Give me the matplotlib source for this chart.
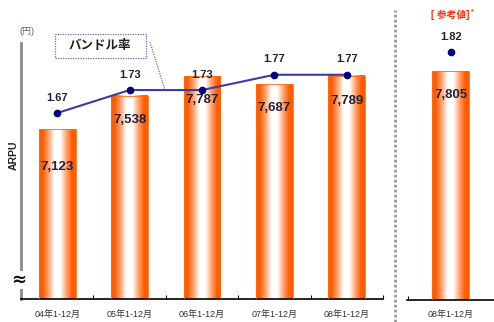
import numpy as np
import matplotlib
matplotlib.use('Agg')
import matplotlib.pyplot as plt
from matplotlib.lines import Line2D
from matplotlib.patches import Rectangle

plt.rcParams['font.family'] = ['Liberation Sans', 'Noto Sans CJK JP', 'DejaVu Sans']

# ARPU (円) と バンドル率
periods = ['04年1-12月', '05年1-12月', '06年1-12月', '07年1-12月', '08年1-12月']
arpu = [7123, 7538, 7787, 7687, 7789]
bundle = [1.67, 1.73, 1.73, 1.77, 1.77]

ref_period = ['08年1-12月']
ref_arpu = [7805]
ref_bundle = [1.82]

W, H = 494, 322
fig = plt.figure(figsize=(W / 100, H / 100), dpi=100)


def px(x, y):
    return x / W, 1 - y / H


# 横方向グラデーション (端がオレンジ、中央が白)
u = np.linspace(0, 1, 200)
t = np.abs(2 * u - 1)
f = np.clip((t - 0.18) / 0.62, 0, 1) ** 0.85
orange = np.array([1.0, 0.36, 0.0])
white = np.array([1.0, 1.0, 1.0])
grad = (white[None, :] * (1 - f[:, None]) + orange[None, :] * f[:, None])[None, :, :]

bar_w = 0.51
y_lo, y_hi = 5000, 8200
b_lo, b_hi = 1.184, 1.853
txt = '#222233'
line_c = '#3C3CA0'
dot_c = '#000080'


def gradient_bars(ax, xs, vals):
    for x, v in zip(xs, vals):
        ax.imshow(grad, extent=(x - bar_w / 2, x + bar_w / 2, y_lo, v),
                  aspect='auto', zorder=2, interpolation='bilinear')
        ax.add_patch(Rectangle((x - bar_w / 2, y_lo), bar_w, v - y_lo,
                               fill=False, lw=0.6, ec='#FF6A10', zorder=3))


# 左パネル
ax = fig.add_axes([21 / W, 23 / H, 362 / W, 256 / H])
xs = np.arange(len(periods))
gradient_bars(ax, xs, arpu)
ax.set_xlim(-0.5, len(periods) - 0.5)
ax.set_ylim(y_lo, y_hi)
ax.set_xticks(xs)
ax.set_xticklabels(periods, fontsize=6.5, color='#333333')
ax.tick_params(axis='x', which='major', length=0, pad=8)
ax.set_xticks(np.arange(len(periods)) + 0.5, minor=True)
ax.tick_params(axis='x', which='minor', direction='in', length=3, width=0.8)
ax.set_yticks([])
for s in ['top', 'right']:
    ax.spines[s].set_visible(False)
ax.spines['left'].set_color('#8A8A8A')
ax.spines['left'].set_linewidth(2)
ax.spines['bottom'].set_linewidth(1.2)

label_off = [-27, -17, -17, -17, -18]
for x, v, off in zip(xs, arpu, label_off):
    ax.annotate(f'{v:,}', (x, v), xytext=(0, off), textcoords='offset points',
                ha='center', va='center', fontsize=9.5, fontweight='bold',
                color=txt, zorder=5)

ax2 = ax.twinx()
ax2.plot(xs, bundle, color=line_c, lw=1.5, marker='o', ms=4.5,
         mfc=dot_c, mec=dot_c, zorder=4)
ax2.set_ylim(b_lo, b_hi)
ax2.set_xlim(-0.5, len(periods) - 0.5)
ax2.axis('off')
for x, b in zip(xs, bundle):
    ax2.annotate(f'{b:.2f}', (x, b), xytext=(0, 11), textcoords='offset points',
                 ha='center', va='center', fontsize=8, fontweight='bold', color=txt)

# 右パネル (参考値)
axr = fig.add_axes([407 / W, 22 / H, 87 / W, 261 / H])
gradient_bars(axr, [0], ref_arpu)
axr.set_xlim(-0.607, 0.595)
axr.set_ylim(y_lo, y_hi)
axr.set_xticks([0])
axr.set_xticklabels(ref_period, fontsize=6.5, color='#333333')
axr.tick_params(axis='x', which='major', length=0, pad=7)
axr.set_xticks([-0.6], minor=True)
axr.tick_params(axis='x', which='minor', direction='in', length=3, width=0.8)
axr.set_yticks([])
for s in ['top', 'right', 'left']:
    axr.spines[s].set_visible(False)
axr.spines['bottom'].set_linewidth(1.2)
for v in ref_arpu:
    axr.annotate(f'{v:,}', (0, v), xytext=(0, -17), textcoords='offset points',
                 ha='center', va='center', fontsize=9.5, fontweight='bold',
                 color=txt, zorder=5)

axr2 = axr.twinx()
axr2.plot([0], ref_bundle, 'o', ms=4.5, mfc=dot_c, mec=dot_c)
axr2.set_ylim(b_lo, b_hi)
axr2.set_xlim(-0.607, 0.595)
axr2.axis('off')
for b in ref_bundle:
    axr2.annotate(f'{b:.2f}', (0, b), xytext=(0, 11), textcoords='offset points',
                  ha='center', va='center', fontsize=8, fontweight='bold', color=txt)

# 区切り線
fig.add_artist(Line2D([395 / W, 395 / W], [0, 1 - 10 / H], transform=fig.transFigure,
                      color='#999999', lw=2, linestyle=(0, (1, 0.8))))

# 凡例ボックスと引き出し線
x0, y0 = px(55, 58)
x1, y1 = px(146, 34)
fig.add_artist(Rectangle((x0, y0), x1 - x0, y1 - y0, transform=fig.transFigure,
                         fill=False, ec='#6070B0', lw=0.9, linestyle=(0, (1, 1))))
fig.text(*px(100, 46), 'バンドル率', ha='center', va='center',
         fontsize=9, fontweight='bold', color='#222222')
lx0, ly0 = px(150, 42)
lx1, ly1 = px(165, 90)
fig.add_artist(Line2D([lx0, lx1], [ly0, ly1], transform=fig.transFigure,
                      color='#6070B0', lw=0.9, linestyle=(0, (1, 1))))

# 軸まわりの文字
fig.text(*px(27, 32), '(円)', ha='center', va='center', fontsize=6.5, color='#556070')
fig.text(*px(14, 155), 'ARPU', ha='center', va='center', rotation=90,
         fontsize=7.5, fontweight='bold', color='#222222')
fig.text(*px(19, 280), '≈', ha='center', va='center', fontsize=13,
         fontweight='bold', color='#111111', family='DejaVu Sans',
         bbox=dict(fc='white', ec='none', pad=0))
fig.text(*px(450, 15), '[ 参考値]', ha='center', va='center', fontsize=7,
         fontweight='bold', color='#FF2A00')
fig.text(*px(472, 12), '*', ha='center', va='center', fontsize=5,
         fontweight='bold', color='#FF2A00')

fig.savefig('out.png', dpi=100)
